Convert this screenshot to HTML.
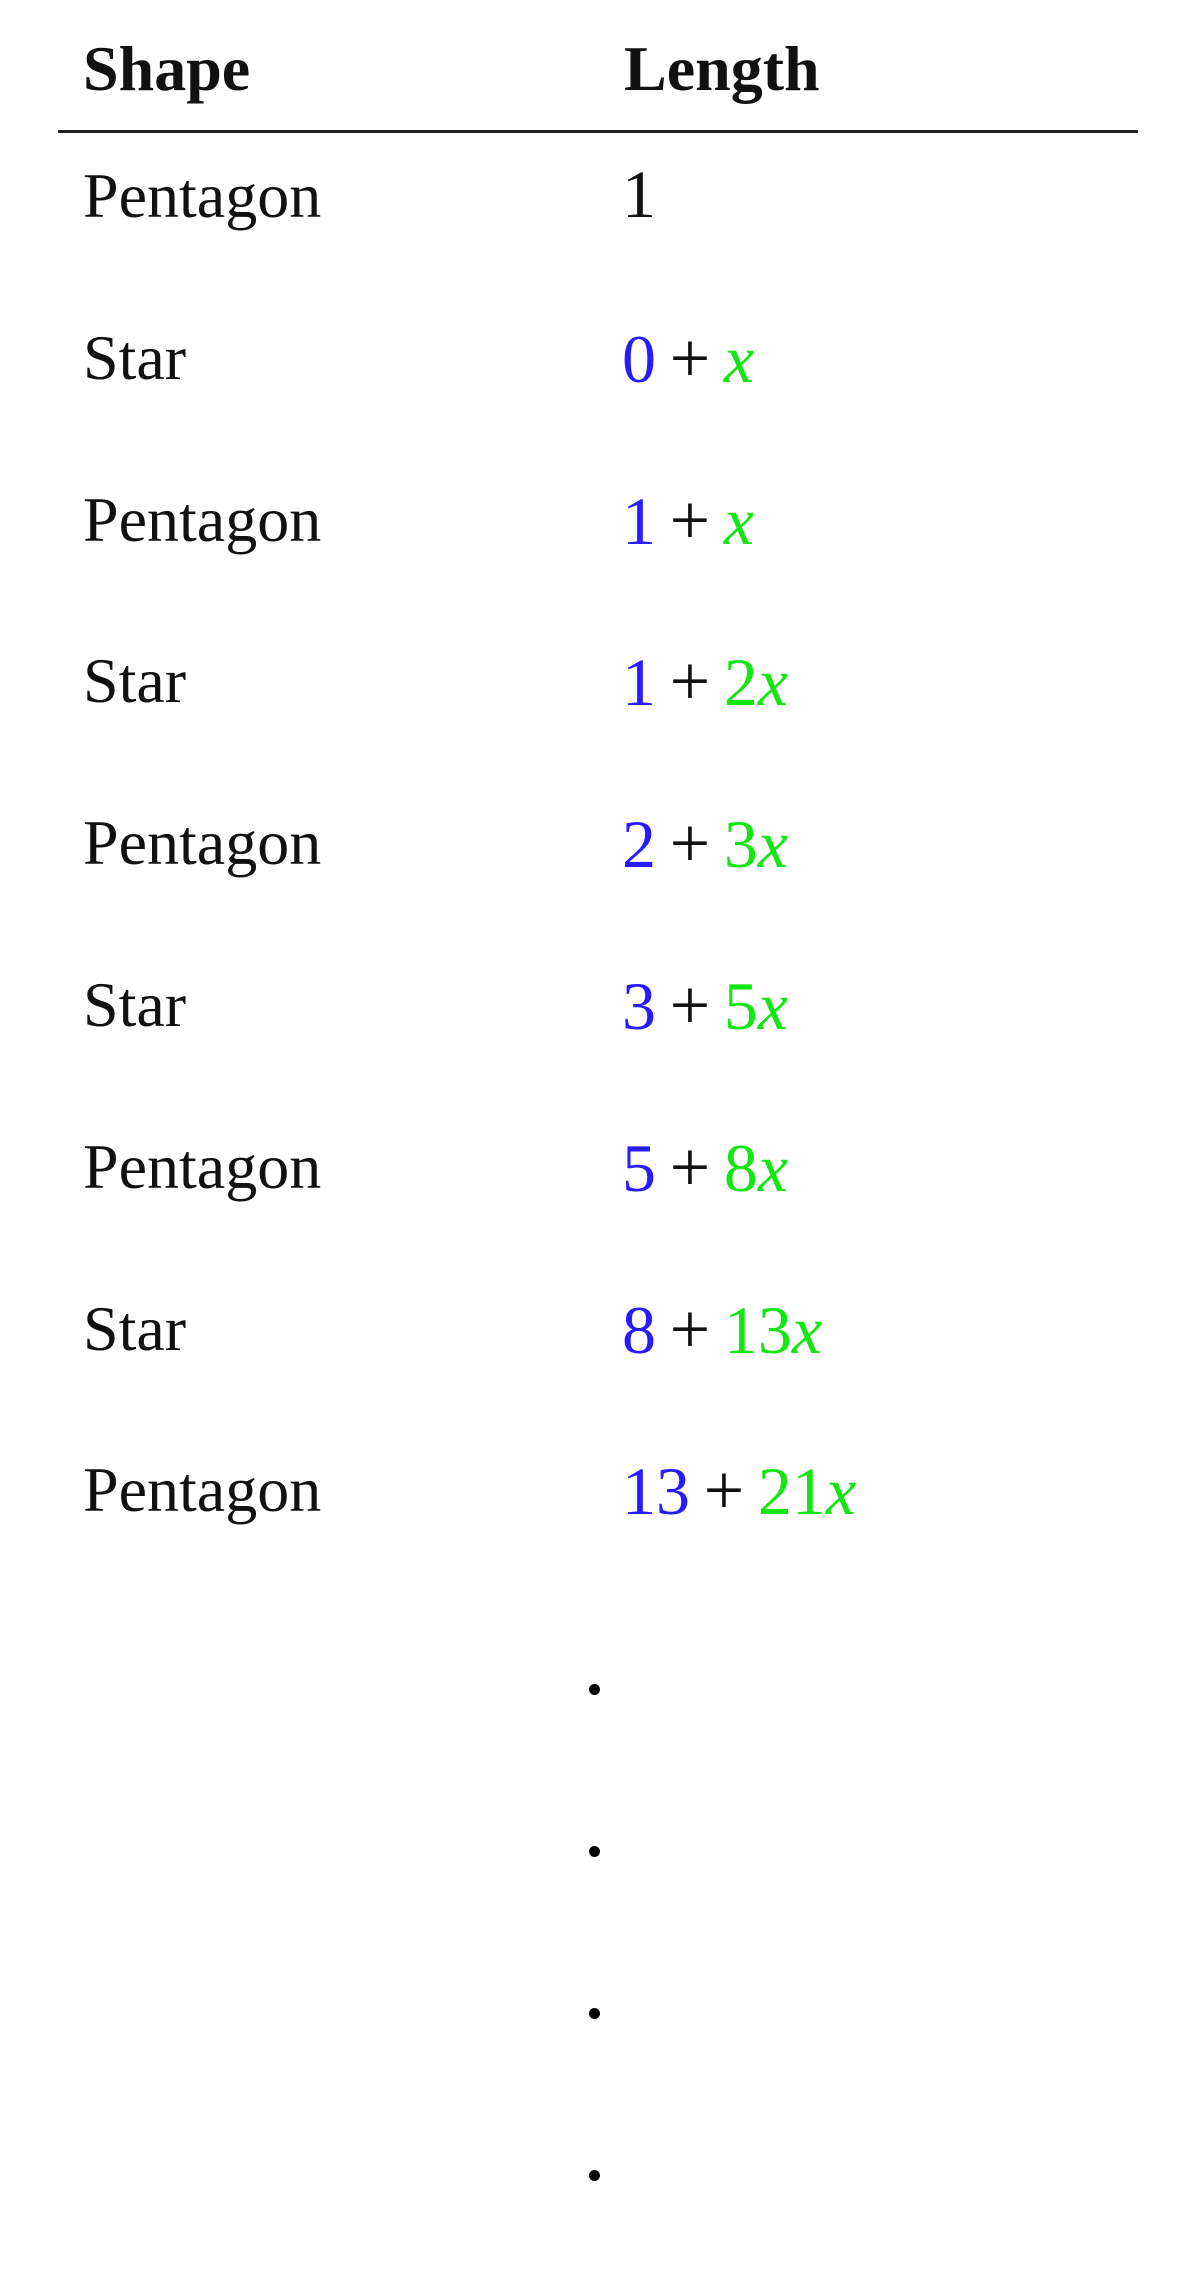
<!DOCTYPE html>
<html><head><meta charset="utf-8">
<style>
html,body{margin:0;padding:0;background:#fff;}
body{width:1200px;height:2290px;position:relative;overflow:hidden;font-family:"Liberation Serif",serif;color:#111;}
.t{position:absolute;font-size:64px;line-height:1;white-space:pre;}
.m{font-size:68px;}
.h{font-weight:bold;}
.b{color:#2a1aff;}
.g{color:#14e614;}
.i{font-style:italic;}
.p{font-size:72px;}
.dot{position:absolute;width:11px;height:11px;border-radius:50%;background:#000;}
#rule{position:absolute;left:58px;top:130px;width:1080px;height:3px;background:#222;}
</style></head>
<body>
<div id="root"></div>
<script>
const shapes=["Pentagon","Star","Pentagon","Star","Pentagon","Star","Pentagon","Star","Pentagon"];
const constTerms=[1,0,1,1,2,3,5,8,13];
const xCoefs=[0,1,1,2,3,5,8,13,21];
const dotCount=4;
const root=document.getElementById('root');
function yRow(i){return 215+i*161.8;}
function mk(cls,txt,x,base,name){
  const d=document.createElement('div');
  d.className='t '+cls;
  d.textContent=txt;
  d.style.left=x+'px';
  d.style.top=(base-51)+'px';
  
  
  root.appendChild(d);return d;
}
mk('h','Shape',83,88,'shape-header');
mk('h','Length',624,88,'length-header');
const rule=document.createElement('div');rule.id='rule';


root.appendChild(rule);
shapes.forEach((s,i)=>{
  const base=yRow(i);
  mk('',s,83,base,'shape-cell');
  const d=document.createElement('div');
  d.className='t m';d.style.left='622px';d.style.top=(base-55)+'px';
  
  
  if(xCoefs[i]===0){d.textContent=String(constTerms[i]);}
  else{
    const c=xCoefs[i]===1?'':String(xCoefs[i]);
    d.innerHTML='<span class="b">'+constTerms[i]+'</span>\u2009<span class="p">+</span>\u2009<span class="g">'+c+'<span class="i">x</span></span>';
  }
  root.appendChild(d);
});
for(let k=0;k<dotCount;k++){
  const d=document.createElement('div');d.className='dot';
  d.style.left='589px';d.style.top=(1684+k*162)+'px';
  
  
  root.appendChild(d);
}
</script>
</body></html>
